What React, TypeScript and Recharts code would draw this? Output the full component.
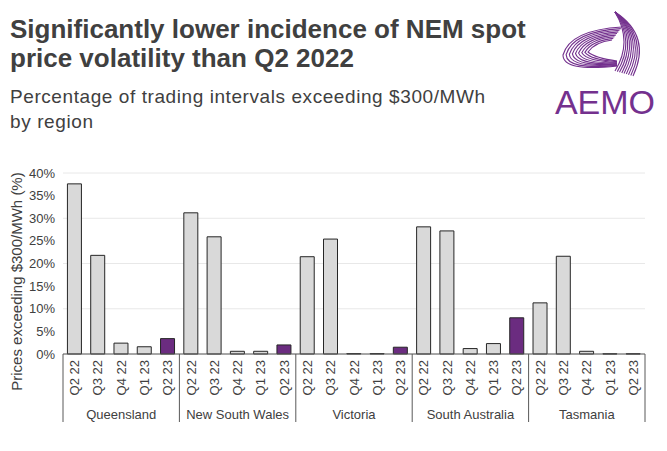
import React from "react";
import { Bar, BarChart, CartesianGrid, Cell, XAxis, YAxis } from "recharts";

const regions = ["Queensland", "New South Wales", "Victoria", "South Australia", "Tasmania"];
const quarters = ["Q2 22", "Q3 22", "Q4 22", "Q1 23", "Q2 23"];

// % of trading intervals above $300/MWh, one array per region, in quarter order
const queensland = [37.6, 21.8, 2.4, 1.6, 3.4];
const newSouthWales = [31.2, 25.9, 0.6, 0.6, 2.0];
const victoria = [21.5, 25.4, 0.1, 0.1, 1.5];
const southAustralia = [28.1, 27.2, 1.2, 2.3, 8.0];
const tasmania = [11.3, 21.6, 0.6, 0.05, 0.05];

const yTicks = [0, 5, 10, 15, 20, 25, 30, 35, 40];

const INK = "#404040";
const BAR_GREY = "#d9d9d9";
const BAR_EDGE = "#262626";
const PURPLE = "#6b2c80";
const LOGO = "#74318e";
const FONT = "'Liberation Sans', Arial, sans-serif";

const series = [queensland, newSouthWales, victoria, southAustralia, tasmania];
const data = regions.flatMap((region, r) =>
  quarters.map((q, i) => ({
    id: `${region}|${q}`,
    region,
    quarter: q,
    value: series[r][i],
    latest: i === quarters.length - 1,
  }))
);

function QuarterTick(props: any) {
  const { x, y, payload, index } = props;
  const half = payload && payload.offset ? payload.offset : 11.64;
  const row = data[index];
  const pos = index % quarters.length;
  return (
    <g>
      <text
        transform={`translate(${x + 4.5},${y + 6}) rotate(-90)`}
        textAnchor="end"
        fontSize={13}
        fontFamily={FONT}
        fill={INK}
      >
        {row ? row.quarter : ""}
      </text>
      {pos === 0 && <line x1={x - half} x2={x - half} y1={y} y2={y + 68} stroke="#595959" />}
      {index === data.length - 1 && (
        <line x1={x + half} x2={x + half} y1={y} y2={y + 68} stroke="#595959" />
      )}
      {pos === 2 && (
        <text x={x} y={y + 65} textAnchor="middle" fontSize={13} fontFamily={FONT} fill={INK}>
          {row ? row.region : ""}
        </text>
      )}
    </g>
  );
}

// logo swoosh: each band is drawn between an outer and an inner guide curve
const steps = [0, 0.125, 0.25, 0.375, 0.5, 0.625, 0.75, 0.875, 1];
const mix = (a: number[], b: number[], t: number) => a.map((v, k) => (v + (b[k] - v) * t).toFixed(1));
const wingOuter = [622, 27, 570, 30, 563, 55, 563, 72, 617, 66];
const wingInner = [612, 40, 595, 42, 588, 52, 595, 58, 617, 61];
const arcOuter = [615, 12, 652, 36, 633, 76];
const arcInner = [615, 12, 633, 42, 615, 71];

function Logo() {
  return (
    <g fill="none" stroke={LOGO} strokeWidth={1.1}>
      {steps.map((t) => {
        const p = mix(wingOuter, wingInner, t);
        return <path key={`w${t}`} d={`M${p[0]} ${p[1]} Q${p[2]} ${p[3]} ${p[4]} ${p[5]} Q${p[6]} ${p[7]} ${p[8]} ${p[9]}`} />;
      })}
      {steps.map((t) => {
        const p = mix(arcOuter, arcInner, t);
        return <path key={`a${t}`} d={`M${p[0]} ${p[1]} Q${p[2]} ${p[3]} ${p[4]} ${p[5]}`} />;
      })}
      <text x={605} y={114} textAnchor="middle" fontSize={34} fontFamily={FONT} fill={LOGO} stroke="none">
        AEMO
      </text>
    </g>
  );
}

export default function App() {
  return (
    <div style={{ position: "absolute", left: 0, top: 0, width: 667, height: 451, background: "#fff" }}>
      <svg width={667} height={451} style={{ position: "absolute", left: 0, top: 0 }}>
        <text x={10} y={37.5} fontSize={26} fontWeight="bold" fontFamily={FONT} fill={INK}>
          Significantly lower incidence of NEM spot
        </text>
        <text x={10} y={66.5} fontSize={26} fontWeight="bold" fontFamily={FONT} fill={INK}>
          price volatility than Q2 2022
        </text>
        <text x={10} y={103} fontSize={19} fontFamily={FONT} fill={INK} textLength={475} lengthAdjust="spacing">
          Percentage of trading intervals exceeding $300/MWh
        </text>
        <text x={10} y={128} fontSize={19} fontFamily={FONT} fill={INK} letterSpacing={0.6}>
          by region
        </text>
        <Logo />
        <text
          transform="translate(22,281.5) rotate(-90)"
          textAnchor="middle"
          fontSize={15}
          fontFamily={FONT}
          fill={INK}
        >
          Prices exceeding $300/MWh (%)
        </text>
      </svg>
      <div style={{ position: "absolute", left: 0, top: 0 }}>
        <BarChart
          width={667}
          height={451}
          data={data}
          margin={{ top: 173, right: 22, bottom: 0, left: 0 }}
          barCategoryGap="19%"
        >
          <CartesianGrid vertical={false} stroke="#e8e8e8" />
          <YAxis
            type="number"
            domain={[0, 40]}
            ticks={yTicks}
            tickFormatter={(v) => `${v}%`}
            axisLine={false}
            tickLine={false}
            width={63}
            tick={{ fontSize: 13, fill: INK, fontFamily: FONT }}
          />
          <XAxis
            dataKey="id"
            interval={0}
            height={97}
            tickLine={false}
            tickSize={0}
            tickMargin={0}
            axisLine={{ stroke: "#595959" }}
            tick={<QuarterTick />}
          />
          <Bar dataKey="value" stroke={BAR_EDGE} strokeWidth={1} isAnimationActive={false}>
            {data.map((d) => (
              <Cell key={d.id} fill={d.latest ? PURPLE : BAR_GREY} />
            ))}
          </Bar>
        </BarChart>
      </div>
    </div>
  );
}
